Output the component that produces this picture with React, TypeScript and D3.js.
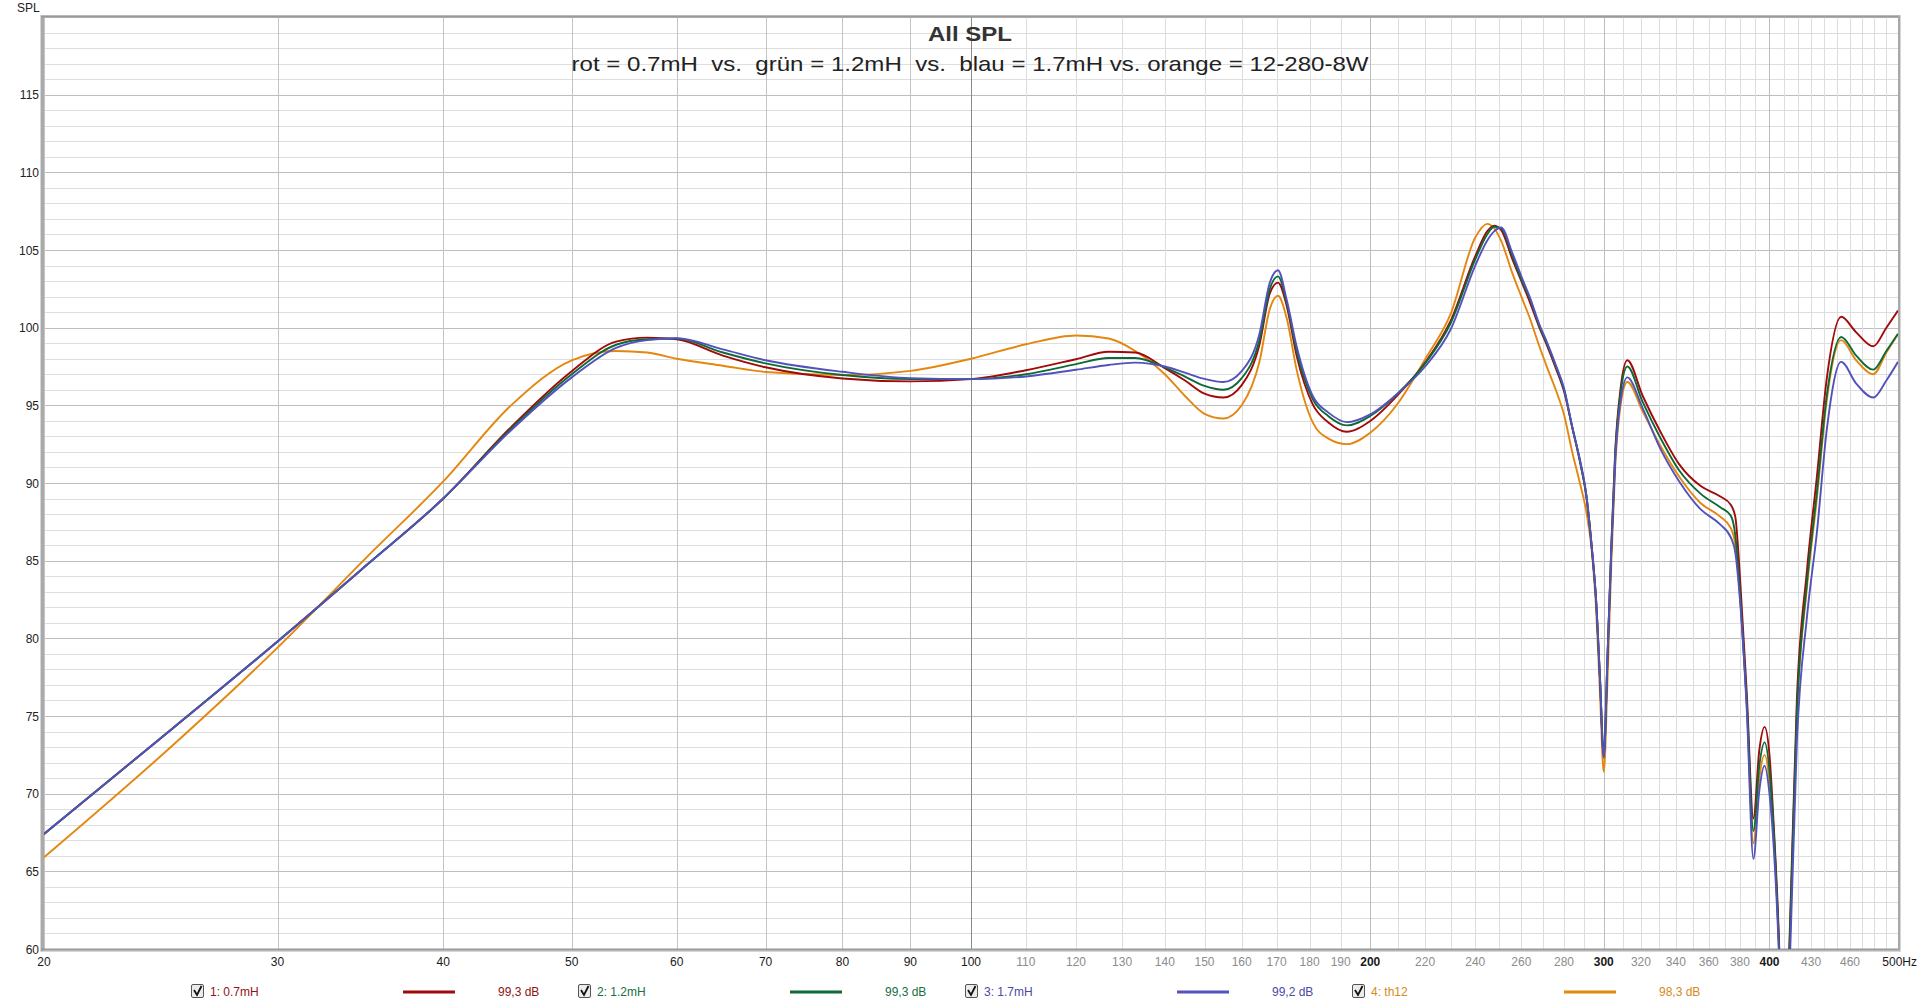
import React, { useEffect, useRef } from 'react';
import * as d3 from 'd3';

const freqs = [20, 25, 30, 35, 40, 45, 50, 54, 57, 60, 65, 70, 80, 90, 100, 110, 120, 127, 133, 140, 145, 150, 155, 160, 165, 168, 170.4, 173, 176, 181, 186, 192, 200, 210, 220, 230, 240, 245, 248, 251, 256, 260, 264, 268, 272, 276, 280, 284, 288, 291, 294, 296, 298, 300, 302, 304, 306, 309, 312.5, 321, 331, 342, 355, 367, 374, 377, 380, 384.5, 389, 393, 396.6, 400, 403, 406.5, 410, 414, 419.5, 426.8, 434.3, 441.8, 453, 465, 479, 490, 500];

const redDb = [67.4, 74.2, 79.8, 84.7, 89.0, 93.6, 97.2, 99.1, 99.36, 99.25, 98.2, 97.45, 96.73, 96.54, 96.69, 97.26, 97.97, 98.45, 98.4, 97.4, 96.6, 95.75, 95.5, 96.3, 98.9, 102.2, 102.9, 101.4, 98.2, 95.06, 93.9, 93.3, 93.99, 95.7, 97.75, 100.45, 104.6, 106.2, 106.57, 106.3, 104.4, 103.0, 101.6, 100.1, 98.8, 97.4, 95.9, 93.6, 91.3, 89.2, 85.6, 82.5, 77.5, 72.4, 79, 86, 92, 96.2, 97.9, 95.6, 93.3, 91.2, 89.8, 89.15, 88.6, 87.8, 84.0, 76.5, 68.4, 72.8, 74.3, 72.5, 67.9, 61, 50, 60, 76.1, 84.3, 90.4, 96.7, 100.7, 99.7, 98.8, 100.0, 101.1];

const greenDb = [67.4, 74.2, 79.8, 84.7, 89.0, 93.5, 97.0, 98.9, 99.25, 99.3, 98.4, 97.7, 96.95, 96.69, 96.69, 97.0, 97.65, 98.05, 98.05, 97.45, 96.85, 96.25, 96.0, 96.75, 99.2, 102.5, 103.3, 101.6, 98.5, 95.4, 94.3, 93.71, 94.31, 95.8, 97.7, 100.3, 104.4, 106.0, 106.5, 106.4, 104.6, 103.1, 101.8, 100.2, 98.9, 97.5, 96.0, 93.6, 91.3, 89.2, 85.6, 82.5, 77.5, 72.5, 79, 86, 91.8, 95.9, 97.5, 95.2, 92.9, 90.8, 89.3, 88.45, 87.9, 86.6, 83.0, 76.0, 67.6, 71.8, 73.3, 71.5, 67.5, 60.5, 50, 59.5, 75.3, 83.5, 89.4, 95.6, 99.4, 98.2, 97.3, 98.5, 99.6];

const blueDb = [67.4, 74.2, 79.8, 84.7, 89.0, 93.4, 96.8, 98.7, 99.2, 99.32, 98.6, 97.9, 97.16, 96.75, 96.69, 96.86, 97.29, 97.6, 97.75, 97.5, 97.1, 96.7, 96.5, 97.2, 99.6, 102.9, 103.7, 101.8, 98.8, 95.6, 94.53, 93.92, 94.42, 95.8, 97.5, 99.9, 104.0, 105.6, 106.2, 106.45, 104.8, 103.3, 101.9, 100.3, 99.0, 97.6, 96.1, 93.6, 91.4, 89.3, 85.6, 82.5, 77.5, 72.3, 79, 85.8, 91.4, 95.4, 96.8, 94.8, 92.2, 90.1, 88.3, 87.35, 86.5, 85.5, 82.5, 75.5, 65.8, 70.2, 71.8, 70.0, 66.5, 60, 50, 58, 73.35, 81.3, 86.8, 93.4, 97.8, 96.4, 95.5, 96.6, 97.8];

const orangeDb = [65.9, 73.1, 79.4, 85.2, 90.1, 95.0, 97.9, 98.5, 98.4, 98.0, 97.55, 97.15, 96.95, 97.22, 98.0, 98.93, 99.5, 99.3, 98.5, 97.0, 95.6, 94.45, 94.15, 95.0, 97.8, 101.2, 102.05, 100.6, 97.3, 93.9, 92.86, 92.5, 93.24, 95.17, 97.97, 100.9, 105.8, 106.68, 106.4, 105.6, 103.5, 102.0, 100.55, 98.9, 97.4, 96.0, 94.4, 92.0, 89.9, 88.2, 85.4, 82.0, 76.5, 71.4, 77.5, 85, 91, 95.1, 96.5, 94.6, 92.4, 90.4, 88.7, 87.85, 87.1, 86.0, 82.8, 75.8, 66.8, 71.0, 72.5, 70.8, 67.2, 60.5, 50, 59, 75.0, 83.2, 89.0, 95.3, 99.2, 97.9, 97.0, 98.4, 99.6];

const seriesNames = ['1: 0.7mH', '2: 1.2mH', '3: 1.7mH', '4: th12'];
const seriesLevels = ['99,3 dB', '99,3 dB', '99,2 dB', '98,3 dB'];
const seriesColors = ['#a00a0a', '#0d6a36', '#5252bd', '#e4870f'];
const legendTextColors = ['#8e1414', '#17703f', '#4a4aa8', '#d68a1e'];

const xTickValues = [20, 30, 40, 50, 60, 70, 80, 90, 100, 110, 120, 130, 140, 150, 160, 170, 180, 190, 200, 220, 240, 260, 280, 300, 320, 340, 360, 380, 400, 430, 460, 500];
const yTickValues = [60, 65, 70, 75, 80, 85, 90, 95, 100, 105, 110, 115];

const titleText = 'All SPL';
const subtitleText = 'rot = 0.7mH  vs.  grün = 1.2mH  vs.  blau = 1.7mH vs. orange = 12-280-8W';

const L = 44, R = 1898, T = 17, B = 949;

export default function App() {
  const ref = useRef<SVGSVGElement>(null);

  useEffect(() => {
    const svg = d3.select(ref.current);
    svg.selectAll('*').remove();
    const font = '"Liberation Sans", Arial, sans-serif';

    const x = d3.scaleLog().domain([20, 500]).range([L, R]);
    const y = d3.scaleLinear().domain([60, 120]).range([B, T]);

    svg.append('rect').attr('x', 0).attr('y', 0).attr('width', 1920).attr('height', 1006).attr('fill', '#ffffff');

    // plot frame shadow
    svg.append('rect').attr('x', L - 4).attr('y', T - 2).attr('width', R - L + 7).attr('height', B - T + 5).attr('fill', '#d6d6d6');
    svg.append('rect').attr('x', L).attr('y', T).attr('width', R - L).attr('height', B - T).attr('fill', '#ffffff');

    const grid = svg.append('g');
    d3.range(60, 121, 1).forEach((v) => {
      grid.append('line')
        .attr('x1', L).attr('x2', R)
        .attr('y1', Math.round(y(v)) + 0.5).attr('y2', Math.round(y(v)) + 0.5)
        .attr('stroke', v % 5 === 0 ? '#bdbdbd' : '#dedede')
        .attr('stroke-width', 1);
    });
    d3.range(20, 501, 10).forEach((f) => {
      let c = '#dedede';
      if (f < 100) c = '#c4c4c4';
      if (f === 100) c = '#8a8a8a';
      if (f === 200 || f === 300 || f === 400) c = '#bdbdbd';
      grid.append('line')
        .attr('x1', Math.round(x(f)) + 0.5).attr('x2', Math.round(x(f)) + 0.5)
        .attr('y1', T).attr('y2', B)
        .attr('stroke', c).attr('stroke-width', 1);
    });

    // border
    svg.append('rect').attr('x', L - 3).attr('y', T - 1).attr('width', 3).attr('height', B - T + 3).attr('fill', '#aaaaaa');
    svg.append('line').attr('x1', L - 3).attr('x2', R + 2).attr('y1', T - 0.5).attr('y2', T - 0.5).attr('stroke', '#9a9a9a').attr('stroke-width', 2);
    svg.append('line').attr('x1', L - 3).attr('x2', R + 2).attr('y1', B + 0.5).attr('y2', B + 0.5).attr('stroke', '#9a9a9a').attr('stroke-width', 2);
    svg.append('line').attr('x1', R + 1).attr('x2', R + 1).attr('y1', T - 1).attr('y2', B + 1).attr('stroke', '#a8a8a8').attr('stroke-width', 2);

    // curves
    svg.append('defs').append('clipPath').attr('id', 'plotclip')
      .append('rect').attr('x', L).attr('y', T).attr('width', R - L).attr('height', B - T);
    const allSeries = [redDb, greenDb, blueDb, orangeDb];
    const line = d3.line<[number, number]>()
      .x((d) => x(d[0]))
      .y((d) => y(d[1]))
      .curve(d3.curveMonotoneX);
    const cg = svg.append('g').attr('clip-path', 'url(#plotclip)');
    const order = [3, 0, 1, 2];
    order.forEach((i) => {
      const pts: [number, number][] = freqs.map((f, k) => [f, allSeries[i][k]]);
      cg.append('path')
        .attr('d', line(pts) as string)
        .attr('fill', 'none')
        .attr('stroke', seriesColors[i])
        .attr('stroke-width', 1.9)
        .attr('stroke-linejoin', 'round');
    });

    // y labels
    svg.append('text').attr('x', 17).attr('y', 12).attr('font-family', font).attr('font-size', 12).attr('fill', '#222').text('SPL');
    yTickValues.forEach((v) => {
      svg.append('text')
        .attr('x', 39).attr('y', y(v) + 4.5)
        .attr('text-anchor', 'end')
        .attr('font-family', font).attr('font-size', 12).attr('fill', '#222')
        .text(String(v));
    });

    // x labels
    xTickValues.forEach((f) => {
      const major = f <= 100 || f === 200 || f === 300 || f === 400;
      const isLast = f === 500;
      svg.append('text')
        .attr('x', isLast ? 1917 : x(f))
        .attr('y', 966)
        .attr('text-anchor', isLast ? 'end' : 'middle')
        .attr('font-family', font).attr('font-size', 12)
        .attr('font-weight', f === 200 || f === 300 || f === 400 ? 'bold' : 'normal')
        .attr('fill', major || isLast ? '#1a1a1a' : '#8c8c8c')
        .text(isLast ? '500Hz' : String(f));
    });

    // title
    svg.append('text').attr('x', 970).attr('y', 41).attr('text-anchor', 'middle')
      .attr('font-family', font).attr('font-size', 21).attr('font-weight', 'bold').attr('fill', '#333')
      .attr('textLength', 84).attr('lengthAdjust', 'spacingAndGlyphs')
      .text(titleText);
    svg.append('text').attr('x', 970).attr('y', 71).attr('text-anchor', 'middle')
      .attr('font-family', font).attr('font-size', 21).attr('fill', '#222')
      .attr('xml:space', 'preserve').style('white-space', 'pre')
      .attr('textLength', 797).attr('lengthAdjust', 'spacingAndGlyphs')
      .text(subtitleText);

    // legend
    const lg = svg.append('g');
    seriesNames.forEach((name, i) => {
      const ox = 387 * i;
      const g = lg.append('g');
      g.append('rect').attr('x', 191.5 + ox).attr('y', 984.5).attr('width', 12).attr('height', 13).attr('rx', 1.5)
        .attr('fill', '#ececec').attr('stroke', '#555').attr('stroke-width', 1);
      g.append('path')
        .attr('d', `M${194 + ox},${990} L${197 + ox},${995} L${201.5 + ox},${986}`)
        .attr('fill', 'none').attr('stroke', '#111').attr('stroke-width', 1.8);
      g.append('text').attr('x', 210 + ox).attr('y', 996).attr('font-family', font).attr('font-size', 12)
        .attr('fill', legendTextColors[i]).text(name);
      g.append('line').attr('x1', 403 + ox).attr('x2', 455 + ox).attr('y1', 992).attr('y2', 992)
        .attr('stroke', seriesColors[i]).attr('stroke-width', 3);
      g.append('text').attr('x', 498 + ox).attr('y', 996).attr('font-family', font).attr('font-size', 12)
        .attr('fill', legendTextColors[i]).text(seriesLevels[i]);
    });
  }, []);

  return (
    <svg
      ref={ref}
      width={1920}
      height={1006}
      style={{ position: 'absolute', left: 0, top: 0, display: 'block' }}
    />
  );
}
